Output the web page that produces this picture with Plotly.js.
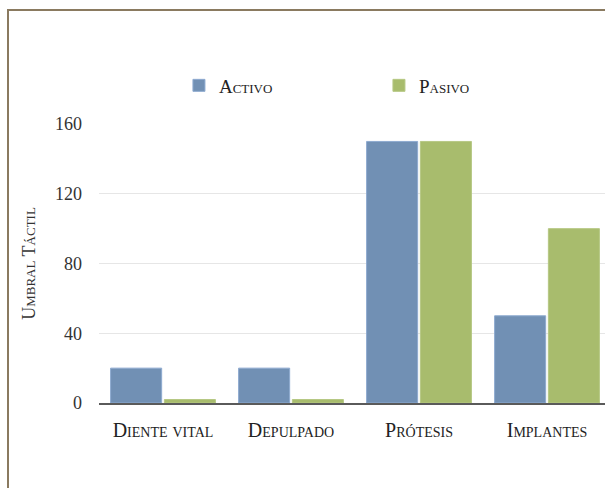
<!DOCTYPE html>
<html>
<head>
<meta charset="utf-8">
<script src="https://cdn.plot.ly/plotly-3.0.1.min.js"></script>
<style>
html,body{margin:0;padding:0;background:#fff;}
#wrap{position:relative;width:605px;height:488px;}
#chart{position:absolute;left:0;top:0;width:605px;height:488px;}
#frame{position:absolute;left:7px;top:9px;width:620px;height:500px;border-left:2.5px solid #8a7a60;border-top:2.5px solid #8a7a60;pointer-events:none;}
</style>
</head>
<body>
<div id="wrap"><div id="chart"></div><div id="frame"></div></div>
<script>
var categories = ['Diente vital', 'Depulpado', 'Prótesis', 'Implantes'];
var activo = [20, 20, 150, 50];
var pasivo = [2, 2, 150, 100];
var seriesNames = ['Activo', 'Pasivo'];
var tickVals = [0, 40, 80, 120, 160];

var serif = 'Liberation Serif, DejaVu Serif, serif';
var data = [
  {type:'bar', name:seriesNames[0], x:categories, y:activo,
   marker:{color:'#7190b4', line:{color:'#8eaad0', width:1}}},
  {type:'bar', name:seriesNames[1], x:categories, y:pasivo,
   marker:{color:'#a8bc6d', line:{color:'#b6c884', width:1}}}
];
var layout = {
  width:605, height:488,
  margin:{l:99, r:0, t:124, b:85},
  paper_bgcolor:'rgba(0,0,0,0)', plot_bgcolor:'#fff',
  barmode:'group', bargap:0.16, bargroupgap:0.05,
  showlegend:true,
  legend:{orientation:'h', x:0.158, xanchor:'left', y:1.138, yanchor:'middle',
          font:{family:serif, size:19, color:'#222', variant:'small-caps'},
          entrywidth:155, entrywidthmode:'pixels', itemwidth:30, traceorder:'normal'},
  xaxis:{range:[-0.5, 3.453], showgrid:false, showline:true, linecolor:'#5a5a5a', linewidth:2,
         ticks:'', ticklabelstandoff:8,
         tickfont:{family:serif, size:20, color:'#222', variant:'small-caps'}, fixedrange:true},
  yaxis:{range:[0, 160], tickvals:tickVals, showgrid:true, gridcolor:'#e6e6e6', gridwidth:1,
         zeroline:false, showline:false, ticks:'', ticklabelstandoff:16,
         tickfont:{family:serif, size:18, color:'#333'},
         title:{text:'Umbral Táctil', standoff:14, font:{family:serif, size:18, color:'#333', variant:'small-caps'}}}
};
Plotly.newPlot('chart', data, layout, {displayModeBar:false, staticPlot:true});
</script>
</body>
</html>
